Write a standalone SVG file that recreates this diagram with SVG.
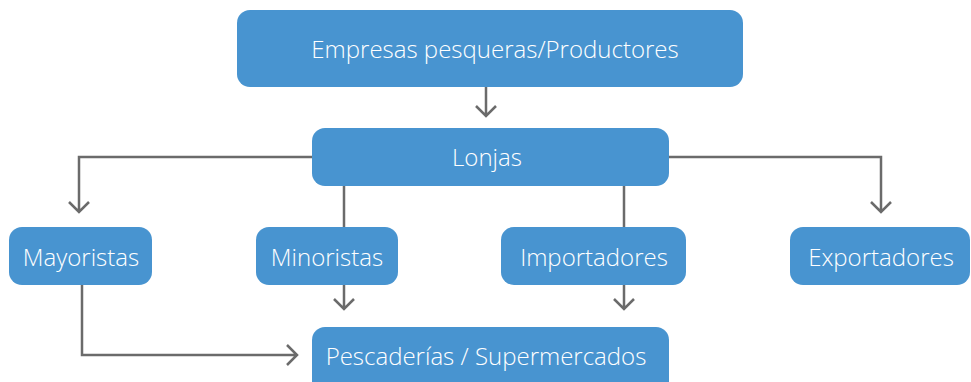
<svg xmlns="http://www.w3.org/2000/svg" width="971" height="382" viewBox="0 0 971 382">
<style>
.box{fill:#4894D0;}
.t{font-family:"Open Sans","Liberation Sans",sans-serif;font-size:24px;font-weight:300;fill:#ffffff;text-anchor:middle;}
.c{fill:none;stroke:#6b6b6b;stroke-width:2.5;}
</style>
<rect width="971" height="382" fill="#ffffff"/>
<g id="connectors">
<path class="c" d="M486 87V116M476 106L486 116L496 106"/>
<path class="c" d="M312 157H79V212M69 202L79 212L89 202"/>
<path class="c" d="M669 157H881V212M871 202L881 212L891 202"/>
<path class="c" d="M344 186V227"/>
<path class="c" d="M624 186V227"/>
<path class="c" d="M344 285V309M334 299L344 309L354 299"/>
<path class="c" d="M624 285V309M614 299L624 309L634 299"/>
<path class="c" d="M82 285V355H297M287 345L297 355L287 365"/>
</g>
<g id="n-empresas"><rect class="box" x="237" y="10" width="506" height="77" rx="13"/><text class="t" x="495" y="58">Empresas pesqueras/Productores</text></g>
<g id="n-lonjas"><rect class="box" x="312" y="128" width="357" height="58" rx="13"/><text class="t" x="487" y="166">Lonjas</text></g>
<g id="n-mayoristas"><rect class="box" x="9" y="227" width="143" height="58" rx="13"/><text class="t" x="81" y="266">Mayoristas</text></g>
<g id="n-minoristas"><rect class="box" x="256" y="227" width="142" height="58" rx="13"/><text class="t" x="327" y="266">Minoristas</text></g>
<g id="n-importadores"><rect class="box" x="501" y="227" width="185" height="58" rx="13"/><text class="t" x="594" y="266">Importadores</text></g>
<g id="n-exportadores"><rect class="box" x="790" y="227" width="180" height="58" rx="13"/><text class="t" x="881" y="266">Exportadores</text></g>
<g id="n-pescaderias"><rect class="box" x="312" y="327" width="357" height="70" rx="13"/><text class="t" x="486" y="365">Pescaderías / Supermercados</text></g>
</svg>
